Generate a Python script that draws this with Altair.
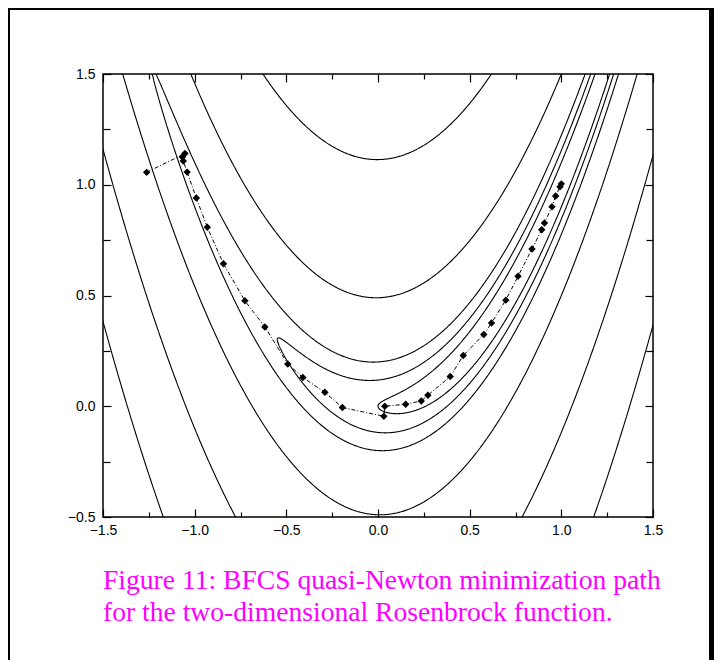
import numpy as np
import pandas as pd
import altair as alt

# Contour levels of the Rosenbrock function f = (1-x)^2 + 100 (y-x^2)^2
levels = [1.0, 2.4, 5.0, 25.0, 125.0, 355.0]

# BFGS minimization path
path_x = [-1.262, -1.053, -1.067, -1.062, -1.041, -0.991, -0.931, -0.843, -0.726,
          -0.617, -0.492, -0.410, -0.290, -0.194, 0.032, 0.037, 0.151, 0.236,
          0.272, 0.394, 0.465, 0.577, 0.619, 0.697, 0.764, 0.840, 0.893, 0.908,
          0.949, 0.969, 0.993, 1.000]
path_y = [1.056, 1.141, 1.125, 1.107, 1.057, 0.940, 0.808, 0.643, 0.476,
          0.358, 0.191, 0.130, 0.063, -0.006, -0.045, 0.000, 0.009, 0.024,
          0.050, 0.134, 0.229, 0.324, 0.376, 0.479, 0.587, 0.710, 0.797, 0.827,
          0.901, 0.949, 0.991, 1.004]

x_major = [-1.5, -1.0, -0.5, 0.0, 0.5, 1.0, 1.5]
x_minor = [-1.25, -0.75, -0.25, 0.25, 0.75, 1.25]
y_major = [-0.5, 0.0, 0.5, 1.0, 1.5]
y_minor = [-0.25, 0.25, 0.75, 1.25]

caption = ["Figure 11: BFCS quasi-Newton minimization path",
           "for the two-dimensional Rosenbrock function."]

W, H = 550, 443

# ---- contour lines (exact level sets of the function) ----
rows = []
seg = 0
for c in levels:
    s = np.sqrt(c)
    n = int(1500 * max(1.0, s))
    t = np.linspace(0, 2 * np.pi, n)
    x = 1 - s * np.cos(t)
    y = x ** 2 + s * np.sin(t) / 10.0
    inside = (x >= -1.62) & (x <= 1.62) & (y >= -0.62) & (y <= 1.62)
    idx = np.flatnonzero(inside)
    if len(idx) == 0:
        continue
    br = np.flatnonzero(np.diff(idx) > 1)
    starts = np.concatenate([[0], br + 1])
    ends = np.concatenate([br, [len(idx) - 1]])
    for a, b in zip(starts, ends):
        for k, j in enumerate(idx[a:b + 1]):
            rows.append((round(float(x[j]), 4), round(float(y[j]), 4), seg, k))
        seg += 1
contours = pd.DataFrame(rows, columns=["x", "y", "seg", "i"])

path = pd.DataFrame({"x": path_x, "y": path_y, "i": list(range(len(path_x)))})

xs = alt.Scale(domain=[-1.5, 1.5], nice=False, zero=False)
ys = alt.Scale(domain=[-0.5, 1.5], nice=False, zero=False)


def tick_axis(orient, offset, values, size):
    return alt.Axis(orient=orient, offset=offset, values=values, tickSize=size,
                    labels=False, domain=False, grid=False, title=None,
                    tickColor="black", tickWidth=1.2)


label_x = alt.Axis(orient="bottom", values=x_major, format=".1f", ticks=False,
                   domain=False, grid=False, title=None, labelPadding=6,
                   labelFlush=False, labelFont="Liberation Sans", labelFontSize=14,
                   labelColor="black")
label_y = alt.Axis(orient="left", values=y_major, format=".1f", ticks=False,
                   domain=False, grid=False, title=None, labelPadding=8,
                   labelFlush=False, labelFont="Liberation Sans", labelFontSize=14,
                   labelColor="black")

contour_layer = alt.Chart(contours).mark_line(
    color="black", strokeWidth=1.1, clip=True
).encode(
    x=alt.X("x:Q", scale=xs, axis=label_x),
    y=alt.Y("y:Q", scale=ys, axis=label_y),
    detail="seg:N",
    order="i:Q",
)

path_line = alt.Chart(path).mark_line(
    color="black", strokeWidth=1, strokeDash=[4, 2, 1, 2], clip=True
).encode(
    x=alt.X("x:Q", scale=xs, axis=tick_axis("top", -H, x_major, 8)),
    y=alt.Y("y:Q", scale=ys, axis=tick_axis("right", -W, y_major, 8)),
    order="i:Q",
)

path_pts = alt.Chart(path).mark_point(
    shape="diamond", filled=True, color="black", size=55, opacity=1, clip=True
).encode(
    x=alt.X("x:Q", scale=xs, axis=tick_axis("bottom", -H, x_major, 8)),
    y=alt.Y("y:Q", scale=ys, axis=tick_axis("left", -W, y_major, 8)),
)

minor_a = alt.Chart(path).mark_point(opacity=0).encode(
    x=alt.X("x:Q", scale=xs, axis=tick_axis("top", -H, x_minor, 5)),
    y=alt.Y("y:Q", scale=ys, axis=tick_axis("right", -W, y_minor, 7)),
)
minor_b = alt.Chart(path).mark_point(opacity=0).encode(
    x=alt.X("x:Q", scale=xs, axis=tick_axis("bottom", -H, x_minor, 5)),
    y=alt.Y("y:Q", scale=ys, axis=tick_axis("left", -W, y_minor, 7)),
)

one = pd.DataFrame({"a": [0]})

frame = alt.Chart(one).mark_rect(
    filled=False, color="black", strokeWidth=5, clip=False
).encode(
    x=alt.value(-95.5), x2=alt.value(608.5),
    y=alt.value(-66.5), y2=alt.value(700),
)


def caption_line(txt, ypos):
    return alt.Chart(one).mark_text(
        text=txt, align="left", baseline="alphabetic", font="Liberation Serif",
        fontSize=27.6, color="#FF00FF", clip=False
    ).encode(x=alt.value(0), y=alt.value(ypos))


cap1 = caption_line(caption[0], 515)
cap2 = caption_line(caption[1], 547)

chart = alt.layer(
    frame, contour_layer, path_line, path_pts, minor_a, minor_b, cap1, cap2
).resolve_axis(
    x="independent", y="independent"
).properties(
    width=W, height=H,
    autosize=alt.AutoSizeParams(type="none"),
    padding={"left": 95, "top": 66, "right": 61, "bottom": 143},
    background="white",
).configure_view(stroke="black", strokeWidth=1.5)

chart.save("out.html", embed_options={"renderer": "svg", "actions": False})
